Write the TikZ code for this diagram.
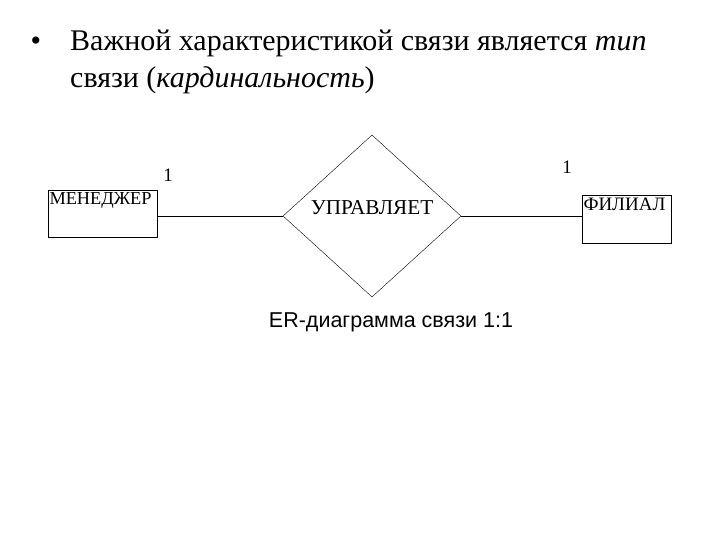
\documentclass[tikz,border=0pt]{standalone}
\usepackage{fontspec}
\setmainfont{Liberation Serif}
\setsansfont{Liberation Sans}
\usetikzlibrary{shapes.geometric,positioning}
\tikzset{
  entity/.style={draw,rectangle,inner sep=0pt},
  relation/.style={draw,diamond,aspect=1.1,minimum width=178pt,minimum height=162pt,inner sep=0pt},
  card/.style={font=\fontsize{19}{20}\selectfont}
}
\begin{document}
\begin{tikzpicture}[x=1pt,y=-1pt]
    \useasboundingbox (0,0) rectangle (720,540);
    % heading
    \node[anchor=base] (bullet) at (36,51) {\fontsize{30}{34}\selectfont •};
    \node[anchor=base west,inner sep=0pt] (head1) at (70,51) {\fontsize{30}{34}\selectfont Важной характеристикой связи является \textit{тип}};
    \node[anchor=base west,inner sep=0pt] (head2) at (70,88) {\fontsize{30}{34}\selectfont связи (\textit{кардинальность})};

    % entities and relationship
    \node[entity,minimum width=109pt,minimum height=47pt] (manager) at (102.5,213.5) {};
    \node[anchor=north west,inner xsep=1.5pt,inner ysep=2.5pt,font=\fontsize{18.3}{20}\selectfont] (managername) at (manager.north west) {МЕНЕДЖЕР};
    \node[entity,minimum width=89pt,minimum height=48pt] (branch) at (626.5,219) {};
    \node[anchor=north west,inner xsep=1.5pt,inner ysep=2.5pt,font=\fontsize{19}{20}\selectfont] (branchname) at (branch.north west) {ФИЛИАЛ};
    \node[relation] (manages) at (372,216) {};
    \node[font=\fontsize{21.2}{22}\selectfont] (managesname) at (372,208) {УПРАВЛЯЕТ};

    \node[card] (c1) at (168,175) {1};
    \node[card] (c2) at (567,167) {1};

    \draw (manages.west) -- (manages.west -| manager.east);
    \draw (manages.east) -- (manages.east -| branch.west);

    \node[font=\sffamily\fontsize{21.5}{24}\selectfont] (caption) at (391,322) {ER-диаграмма связи 1:1};
\end{tikzpicture}
\end{document}
